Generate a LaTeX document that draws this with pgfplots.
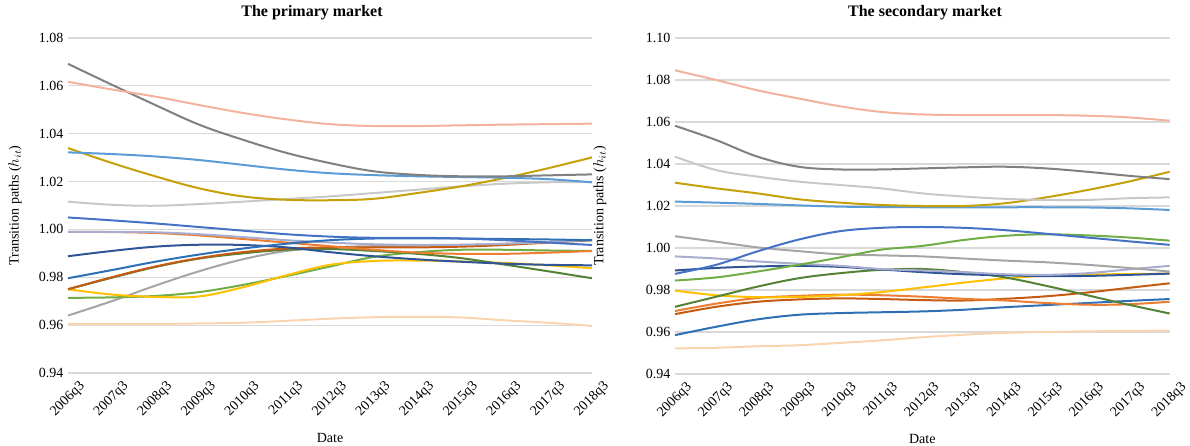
\documentclass[border=0pt]{standalone}
\usepackage{pgfplots}
\usepackage{pgfplotstable}
\pgfplotsset{compat=1.18}
\usepackage{fontspec}
\setmainfont{Liberation Serif}

\definecolor{cpink}{RGB}{242,178,158}
\definecolor{cdgray}{RGB}{128,128,128}
\definecolor{csblue}{RGB}{91,155,213}
\definecolor{cgold}{RGB}{198,160,8}
\definecolor{clgray}{RGB}{200,200,200}
\definecolor{cpeach}{RGB}{250,212,174}
\definecolor{cblue}{RGB}{68,114,196}
\definecolor{cblueb}{RGB}{46,112,182}
\definecolor{cnavy}{RGB}{47,85,151}
\definecolor{clav}{RGB}{168,172,206}
\definecolor{cor}{RGB}{237,125,49}
\definecolor{cor2}{RGB}{197,90,17}
\definecolor{cdgreen}{RGB}{84,130,53}
\definecolor{cgreen}{RGB}{112,173,71}
\definecolor{cyel}{RGB}{255,192,0}
\definecolor{cgray}{RGB}{165,165,165}
\definecolor{cgrid}{RGB}{217,217,217}

% primary market
\pgfplotstableread{
x pink dgray sblue gold lgray peach bdesc brise navy lav or1 or2 dgreen yel green gray
0  1.0617 1.0692 1.0322 1.0340 1.0116 0.9605 1.0050 0.9796 0.9888 0.9990 0.9990 0.9750 0.9750 0.9750 0.9714 0.9640
1  1.0585 1.0605 1.0315 1.0278 1.0103 0.9605 1.0038 0.9830 0.9910 0.9990 0.9989 0.9800 0.9798 0.9728 0.9716 0.9700
2  1.0555 1.0520 1.0305 1.0222 1.0099 0.9605 1.0025 0.9865 0.9928 0.9988 0.9985 0.9845 0.9843 0.9718 0.9722 0.9765
3  1.0520 1.0438 1.0290 1.0172 1.0106 0.9607 1.0010 0.9895 0.9936 0.9980 0.9975 0.9880 0.9878 0.9720 0.9738 0.9825
4  1.0487 1.0375 1.0270 1.0138 1.0116 0.9610 0.9995 0.9920 0.9935 0.9968 0.9960 0.9905 0.9900 0.9758 0.9768 0.9875
5  1.0460 1.0320 1.0250 1.0124 1.0127 0.9618 0.9980 0.9940 0.9925 0.9955 0.9945 0.9920 0.9915 0.9808 0.9805 0.9910
6  1.0440 1.0277 1.0235 1.0122 1.0138 0.9627 0.9970 0.9955 0.9905 0.9945 0.9930 0.9925 0.9918 0.9852 0.9845 0.9925
7  1.0432 1.0243 1.0227 1.0128 1.0152 0.9633 0.9965 0.9962 0.9888 0.9938 0.9915 0.9925 0.9910 0.9868 0.9885 0.9930
8  1.0432 1.0228 1.0222 1.0152 1.0166 0.9635 0.9965 0.9963 0.9875 0.9935 0.9903 0.9925 0.9898 0.9870 0.9905 0.9932
9  1.0435 1.0222 1.0219 1.0180 1.0180 0.9632 0.9962 0.9962 0.9865 0.9936 0.9898 0.9928 0.9880 0.9866 0.9915 0.9935
10 1.0438 1.0222 1.0216 1.0215 1.0191 0.9620 0.9955 0.9960 0.9857 0.9940 0.9898 0.9935 0.9853 0.9860 0.9915 0.9940
11 1.0440 1.0226 1.0210 1.0256 1.0197 0.9610 0.9945 0.9958 0.9852 0.9947 0.9903 0.9945 0.9825 0.9850 0.9912 0.9947
12 1.0442 1.0230 1.0197 1.0301 1.0198 0.9597 0.9935 0.9955 0.9850 0.9957 0.9910 0.9955 0.9796 0.9838 0.9910 0.9955
}\primary

% secondary market
\pgfplotstableread{
x pink dgray lgray gold sblue barch lgreen gray lav navy dgreen yel or1 or2 bbot peach
0  1.0846 1.0582 1.0435 1.0311 1.0221 0.9877 0.9845 1.0056 0.9960 0.9893 0.9720 0.9797 0.9700 0.9685 0.9585 0.9522
1  1.0800 1.0514 1.0371 1.0284 1.0216 0.9920 0.9860 1.0030 0.9950 0.9905 0.9768 0.9775 0.9735 0.9720 0.9625 0.9525
2  1.0751 1.0435 1.0340 1.0260 1.0210 0.9984 0.9888 1.0003 0.9936 0.9912 0.9816 0.9766 0.9762 0.9744 0.9660 0.9532
3  1.0712 1.0387 1.0316 1.0232 1.0203 1.0040 0.9920 0.9985 0.9925 0.9915 0.9856 0.9767 0.9772 0.9755 0.9682 0.9537
4  1.0675 1.0374 1.0300 1.0216 1.0197 1.0080 0.9955 0.9970 0.9915 0.9910 0.9880 0.9775 0.9778 0.9760 0.9690 0.9548
5  1.0648 1.0374 1.0284 1.0205 1.0195 1.0096 0.9992 0.9965 0.9900 0.9898 0.9896 0.9790 0.9775 0.9757 0.9694 0.9560
6  1.0636 1.0379 1.0260 1.0200 1.0194 1.0100 1.0010 0.9960 0.9893 0.9885 0.9900 0.9812 0.9768 0.9752 0.9698 0.9575
7  1.0633 1.0384 1.0245 1.0200 1.0194 1.0096 1.0038 0.9950 0.9885 0.9875 0.9885 0.9835 0.9758 0.9750 0.9706 0.9587
8  1.0633 1.0387 1.0234 1.0213 1.0194 1.0085 1.0058 0.9940 0.9875 0.9870 0.9860 0.9855 0.9750 0.9758 0.9718 0.9596
9  1.0633 1.0379 1.0229 1.0241 1.0194 1.0068 1.0065 0.9932 0.9872 0.9866 0.9820 0.9868 0.9738 0.9770 0.9728 0.9600
10 1.0630 1.0363 1.0229 1.0276 1.0193 1.0050 1.0060 0.9920 0.9880 0.9867 0.9775 0.9873 0.9730 0.9788 0.9738 0.9603
11 1.0622 1.0344 1.0237 1.0316 1.0189 1.0032 1.0050 0.9905 0.9898 0.9872 0.9730 0.9876 0.9732 0.9810 0.9748 0.9605
12 1.0606 1.0328 1.0241 1.0363 1.0181 1.0015 1.0035 0.9888 0.9915 0.9878 0.9688 0.9878 0.9744 0.9832 0.9757 0.9607
}\secondary

\pgfplotsset{
  excel/.style={
    scale only axis,
    xmin=0, xmax=12,
    xtick={0,...,12},
    xticklabels={2006q3,2007q3,2008q3,2009q3,2010q3,2011q3,2012q3,2013q3,2014q3,2015q3,2016q3,2017q3,2018q3},
    xticklabel style={rotate=45, anchor=north east, font=\fontsize{10.5pt}{12pt}\selectfont, inner sep=0pt, xshift=2pt, yshift=-9pt},
    yticklabel style={font=\fontsize{10.5pt}{12pt}\selectfont},
    axis line style={draw=none},
    major tick length=0pt,
    ymajorgrids,
    grid style={cgrid, line width=0.8pt},
    clip=false,
    /pgf/number format/assume math mode=true,
    /pgf/number format/.cd, fixed, fixed zerofill, precision=2,
    /pgfplots/.cd,
    xlabel={Date},
    ylabel={Transition paths ($h_{it}$)},
    label style={font=\fontsize{10.5pt}{12pt}\selectfont},
    xlabel style={at={(axis description cs:0.5,0)}, yshift=-49pt, anchor=center},
    every axis plot/.append style={line width=1.5pt, smooth, tension=0.6, no marks},
  }
}

\begin{document}
\begin{tikzpicture}
\useasboundingbox (0,0) rectangle (892.5pt,334.5pt);

\begin{axis}[excel,
  at={(51pt,54.75pt)}, anchor=south west,
  width=393pt, height=251.25pt,
  ymin=0.94, ymax=1.08, ytick={0.94,0.96,...,1.081},
  ylabel style={at={(axis description cs:-0.101,0.5)}, anchor=center},
]
\addplot[cpeach] table[x=x,y=peach]{\primary};
\addplot[cgray] table[x=x,y=gray]{\primary};
\addplot[cgreen] table[x=x,y=green]{\primary};
\addplot[cyel] table[x=x,y=yel]{\primary};
\addplot[cdgreen] table[x=x,y=dgreen]{\primary};
\addplot[cor2] table[x=x,y=or2]{\primary};
\addplot[cor] table[x=x,y=or1]{\primary};
\addplot[clav] table[x=x,y=lav]{\primary};
\addplot[cnavy] table[x=x,y=navy]{\primary};
\addplot[cblueb] table[x=x,y=brise]{\primary};
\addplot[cblue] table[x=x,y=bdesc]{\primary};
\addplot[clgray] table[x=x,y=lgray]{\primary};
\addplot[cgold] table[x=x,y=gold]{\primary};
\addplot[csblue] table[x=x,y=sblue]{\primary};
\addplot[cdgray] table[x=x,y=dgray]{\primary};
\addplot[cpink] table[x=x,y=pink]{\primary};
\end{axis}

\begin{axis}[excel,
  at={(506.25pt,54pt)}, anchor=south west,
  width=371pt, height=252pt,
  ymin=0.94, ymax=1.10, ytick={0.94,0.96,...,1.101},
  ylabel style={at={(axis description cs:-0.152,0.5)}, anchor=center},
]
\addplot[cpeach] table[x=x,y=peach]{\secondary};
\addplot[cblueb] table[x=x,y=bbot]{\secondary};
\addplot[cor2] table[x=x,y=or2]{\secondary};
\addplot[cor] table[x=x,y=or1]{\secondary};
\addplot[cyel] table[x=x,y=yel]{\secondary};
\addplot[cdgreen] table[x=x,y=dgreen]{\secondary};
\addplot[cnavy] table[x=x,y=navy]{\secondary};
\addplot[clav] table[x=x,y=lav]{\secondary};
\addplot[cgray] table[x=x,y=gray]{\secondary};
\addplot[cgreen] table[x=x,y=lgreen]{\secondary};
\addplot[cblue] table[x=x,y=barch]{\secondary};
\addplot[csblue] table[x=x,y=sblue]{\secondary};
\addplot[cgold] table[x=x,y=gold]{\secondary};
\addplot[clgray] table[x=x,y=lgray]{\secondary};
\addplot[cdgray] table[x=x,y=dgray]{\secondary};
\addplot[cpink] table[x=x,y=pink]{\secondary};
\end{axis}

\node[font=\bfseries\fontsize{12pt}{14pt}\selectfont] at (234pt,325pt) {The primary market};
\node[font=\bfseries\fontsize{12pt}{14pt}\selectfont] at (693.75pt,325pt) {The secondary market};
\end{tikzpicture}
\end{document}
